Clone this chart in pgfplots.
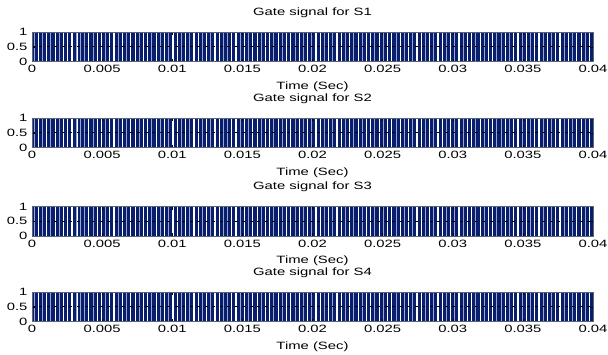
\documentclass[border=0pt]{standalone}
\usepackage{pgfplots}
\pgfplotsset{compat=1.18}
\usepackage{pgfplotstable}
\usepackage{fontspec}
\setmainfont{Liberation Sans}[FakeStretch=1.4]
\definecolor{navy}{HTML}{0A1E6E}
\definecolor{gapL}{HTML}{9AA6CF}
\definecolor{frame}{HTML}{5A6478}

% positions of wide (white) gaps in the gate pulse train
\pgfplotstableread{
x y
0.00045 1
0.00105 1
0.00165 1
0.00225 1
0.00255 1
0.00285 1
0.00325 1
0.00405 1
0.00465 1
0.00495 1
0.00555 1
0.00585 1
0.00645 1
0.00705 1
0.00735 1
0.00795 1
0.00825 1
0.00885 1
0.00945 1
0.01005 1
0.01035 1
0.01095 1
0.01155 1
0.01185 1
0.01245 1
0.01305 1
0.01335 1
0.01425 1
0.01455 1
0.01515 1
0.01575 1
0.01605 1
0.01665 1
0.01695 1
0.01755 1
0.01815 1
0.01845 1
0.01905 1
0.01965 1
0.02025 1
0.02055 1
0.02115 1
0.02175 1
0.02205 1
0.02265 1
0.02325 1
0.02385 1
0.02415 1
0.02475 1
0.02535 1
0.02565 1
0.02625 1
0.02685 1
0.02745 1
0.02775 1
0.02835 1
0.02895 1
0.02925 1
0.02985 1
0.03045 1
0.03105 1
0.03135 1
0.03195 1
0.03255 1
0.03285 1
0.03375 1
0.03435 1
0.03465 1
0.03525 1
0.03585 1
0.03615 1
0.03675 1
0.03735 1
0.03765 1
0.03825 1
0.03885 1
0.03915 1
0.03975 1
}\gapW

% positions of narrow (light) gaps
\pgfplotstableread{
x y
0.00015 1
0.00075 1
0.00135 1
0.00195 1
0.00315 1
0.00345 1
0.00375 1
0.00435 1
0.00525 1
0.00615 1
0.00675 1
0.00765 1
0.00855 1
0.00915 1
0.00975 1
0.01065 1
0.01125 1
0.01215 1
0.01275 1
0.01365 1
0.01395 1
0.01485 1
0.01545 1
0.01635 1
0.01725 1
0.01785 1
0.01875 1
0.01935 1
0.01995 1
0.02085 1
0.02145 1
0.02235 1
0.02295 1
0.02355 1
0.02445 1
0.02505 1
0.02595 1
0.02655 1
0.02715 1
0.02805 1
0.02865 1
0.02955 1
0.03015 1
0.03075 1
0.03165 1
0.03225 1
0.03315 1
0.03345 1
0.03405 1
0.03495 1
0.03555 1
0.03645 1
0.03705 1
0.03795 1
0.03855 1
0.03945 1
}\gapL

\pgfplotsset{gatestyle/.style={
  scale only axis, width=561pt, height=29.5pt,
  anchor=north west,
  xmin=0, xmax=0.04, ymin=0, ymax=1,
  scaled x ticks=false, scaled y ticks=false,
  xtick={0,0.005,0.01,0.015,0.02,0.025,0.03,0.035,0.04},
  xticklabels={0,0.005,0.01,0.015,0.02,0.025,0.03,0.035,0.04},
  ytick={0,0.5,1}, yticklabels={0,0.5,1},
  tick align=inside, major tick length=3pt,
  tick style={black, line width=0.4pt},
  axis on top,
  axis line style={frame, line width=0.6pt},
  every tick label/.append style={font=\fontsize{10.6}{12}\selectfont},
  /pgf/number format/assume math mode=true,
  xticklabel style={yshift=-0.5pt},
  yticklabel style={xshift=-1pt},
  xlabel={Time (Sec)},
  xlabel style={font=\fontsize{10.6}{12}\selectfont, yshift=-1.5pt},
  title style={font=\fontsize{10.6}{12}\selectfont, yshift=5pt},
}}

\newcommand{\gateplots}{%
  \addplot[fill=navy, draw=none] coordinates {(0,1) (0.04,1)} \closedcycle;
  \addplot[ycomb, gapL, line width=0.9pt] table {\gapL};
  \addplot[ycomb, white, line width=1.15pt] table {\gapW};
  \addplot[black, line width=0.6pt, dash pattern=on 3pt off 4.5pt] coordinates {(0,0.5) (0.04,0.5)};
}

\begin{document}
\begin{tikzpicture}
\useasboundingbox (0,0) rectangle (608pt,-354pt);
\begin{axis}[gatestyle, at={(32pt,-32pt)}, title={Gate signal for S1}]
\gateplots
\end{axis}
\begin{axis}[gatestyle, at={(32pt,-118pt)}, title={Gate signal for S2}]
\gateplots
\end{axis}
\begin{axis}[gatestyle, at={(32pt,-206.5pt)}, title={Gate signal for S3}]
\gateplots
\end{axis}
\begin{axis}[gatestyle, at={(32pt,-292pt)}, title={Gate signal for S4}]
\gateplots
\end{axis}
\end{tikzpicture}
\end{document}
